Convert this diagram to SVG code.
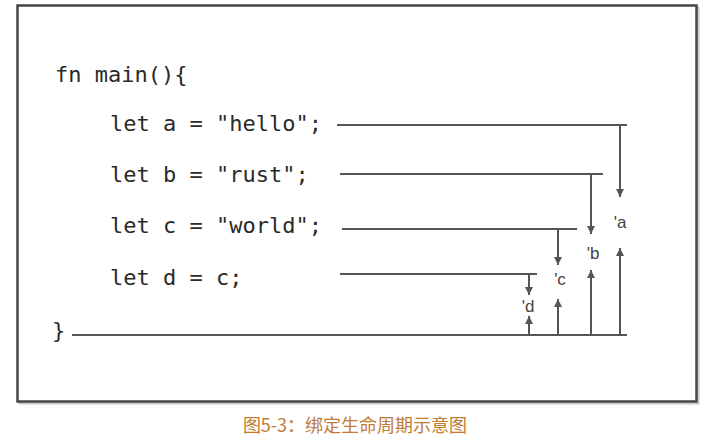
<svg xmlns="http://www.w3.org/2000/svg" width="713" height="437" viewBox="0 0 713 437">
<style>
.code{font-family:"DejaVu Sans Mono","Liberation Mono",monospace;font-size:22px;fill:#2a2a2a}
.lbl{font-family:"Liberation Sans",Arial,sans-serif;font-size:17px;fill:#444;text-anchor:middle}
.ln{stroke:#555;stroke-width:2;fill:none}
.arr{stroke:#555;stroke-width:2;fill:none;marker-end:url(#ah)}
.cap{font-family:"Noto Sans CJK SC",sans-serif;font-size:18px;fill:#c27c35}
</style>
<defs>
<marker id="ah" viewBox="0 0 10 10" refX="10" refY="5" markerWidth="9" markerHeight="8" markerUnits="userSpaceOnUse" orient="auto">
<path d="M0,0 L10,5 L0,10 z" fill="#555"/>
</marker>
</defs>
<rect width="713" height="437" fill="#fff"/>
<g id="frame">
<rect x="19.5" y="7.5" width="679" height="396" fill="none" stroke="#c8c8c8" stroke-width="2"/>
<rect x="17.5" y="5.5" width="679" height="396" fill="#fff" stroke="#444" stroke-width="2.5"/>
</g>
<g id="code">
<text class="code" x="55" y="82">fn main(){</text>
<text class="code" x="110" y="131" xml:space="preserve">let a = "hello";</text>
<text class="code" x="110" y="182" xml:space="preserve">let b = "rust";</text>
<text class="code" x="110" y="233" xml:space="preserve">let c = "world";</text>
<text class="code" x="110" y="285" xml:space="preserve">let d = c;</text>
<text class="code" x="52" y="338">}</text>
</g>
<g id="connectors">
<path class="ln" d="M337,125 H627"/>
<path class="ln" d="M340,174 H603"/>
<path class="ln" d="M342,229 H577"/>
<path class="ln" d="M340,274 H537"/>
<path class="ln" d="M72,335 H627"/>
<path class="arr" d="M620,125 V197"/>
<path class="arr" d="M591,174 V234"/>
<path class="arr" d="M558,229 V265"/>
<path class="arr" d="M529,274 V295"/>
<path class="arr" d="M620,335 V248"/>
<path class="arr" d="M591,335 V270"/>
<path class="arr" d="M558,335 V299"/>
<path class="arr" d="M529,335 V316"/>
</g>
<g id="lifetime-a"><text class="lbl" x="620" y="228">'a</text></g>
<g id="lifetime-b"><text class="lbl" x="593" y="259">'b</text></g>
<g id="lifetime-c"><text class="lbl" x="560" y="285">'c</text></g>
<g id="lifetime-d"><text class="lbl" x="528" y="312">'d</text></g>
<g id="caption"><text class="cap" x="355" y="432" text-anchor="middle">图5-3：绑定生命周期示意图</text></g>
</svg>
